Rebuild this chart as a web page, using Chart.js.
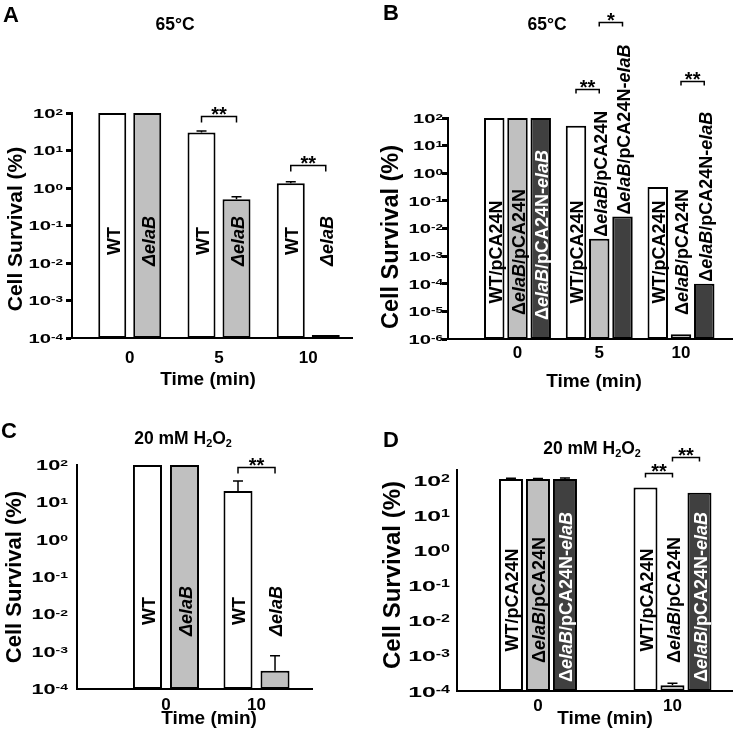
<!DOCTYPE html>
<html><head><meta charset="utf-8">
<script src="https://cdn.jsdelivr.net/npm/chart.js@4.4.1/dist/chart.umd.min.js"></script>
<style>
html,body{margin:0;padding:0;background:#fff;}
#wrap{position:relative;width:733px;height:735px;overflow:hidden;font-family:Arial,"Liberation Sans",sans-serif;font-weight:bold;color:#000;}
canvas{position:absolute;left:0;top:0;}
.t{position:absolute;white-space:nowrap;line-height:1;}
.c{transform:translateX(-50%);}
.t sub{font-size:62%;vertical-align:-0.28em;line-height:0;}
</style></head><body>
<div id="wrap">
<canvas id="cA" width="733" height="735"></canvas>
<canvas id="cB" width="733" height="735"></canvas>
<canvas id="cC" width="733" height="735"></canvas>
<canvas id="cD" width="733" height="735"></canvas>
<div class="t" style="left:3px;top:4px;font-size:22px">A</div>
<div class="t" style="left:383px;top:2px;font-size:22px">B</div>
<div class="t" style="left:1px;top:420px;font-size:22px">C</div>
<div class="t" style="left:383px;top:429px;font-size:22px">D</div>
<div class="t c" style="left:175px;top:16px;font-size:17.5px">65°C</div>
<div class="t c" style="left:547px;top:16px;font-size:17.5px">65°C</div>
<div class="t c" style="left:183px;top:430px;font-size:17.5px">20 mM H<sub>2</sub>O<sub>2</sub></div>
<div class="t c" style="left:592px;top:440px;font-size:17.5px">20 mM H<sub>2</sub>O<sub>2</sub></div>
</div>
<script>
const FONT = 'Arial, "Liberation Sans", sans-serif';

// ---------- Panel A : 65°C ----------
const timesA = ['0', '5', '10'];
const wtA = [100, 30, 1.34];
const wtErrA = [0, 3, 0.12];
const delA = [100, 0.5, 1.2e-4];
const delErrA = [0, 0.08, 0];
const expA = [2, 1, 0, -1, -2, -3, -4];

// ---------- Panel B : 65°C ----------
const timesB = ['0', '5', '10'];
const wtB = [100, 52, 0.32];
const delB = [100, 0.0043, 1.5e-6];
const compB = [100, 0.027, 1.0e-4];
const expB = [2, 1, 0, -1, -2, -3, -4, -5, -6];

// ---------- Panel C : 20 mM H2O2 ----------
const timesC = ['0', '10'];
const wtC = [100, 20];
const wtErrC = [0, 17];
const delC = [100, 3.1e-4];
const delErrC = [0, 4.7e-4];
const expC = [2, 1, 0, -1, -2, -3, -4];

// ---------- Panel D : 20 mM H2O2 ----------
const timesD = ['0', '10'];
const wtD = [107, 61];
const wtErrD = [5, 0];
const delD = [107, 1.45e-4];
const delErrD = [3, 0.2e-4];
const compD = [107, 43];
const compErrD = [6, 0];
const expD = [2, 1, 0, -1, -2, -3, -4];

// axis titles
const Y_TITLE = 'Cell Survival (%)';
const X_TITLE = 'Time (min)';

// bar labels: [text, italic]
const LBL_WT = [['WT', false]];
const LBL_DEL = [['ΔelaB', true]];
const LBL_WTP = [['WT/pCA24N', false]];
const LBL_DELP = [['Δ', false], ['elaB', true], ['/pCA24N', false]];
const LBL_COMP = [['Δ', false], ['elaB', true], ['/pCA24N-', false], ['elaB', true]];

// significance: group, bar a, bar b, bracket level (data units), mark
const sigA = [{g: 1, a: 0, b: 1, at: 83, mark: '**'}, {g: 2, a: 0, b: 1, at: 4.1, mark: '**'}];
const sigB = [{g: 1, a: 0, b: 1, at: 1120, mark: '**'}, {g: 1, a: 1, b: 2, at: 3e5, mark: '*'}, {g: 2, a: 1, b: 2, at: 2200, mark: '**'}];
const sigC = [{g: 1, a: 0, b: 1, at: 88, mark: '**'}];
const sigD = [{g: 1, a: 0, b: 1, at: 158, mark: '**'}, {g: 1, a: 1, b: 2, at: 450, mark: '**'}];

const WHITE = '#ffffff', GREY = '#c0c0c0', DARK = '#404040';

function segsWidth(ctx, segs, fs) {
  let w = 0;
  for (const [t, it] of segs) {
    ctx.font = (it ? 'italic ' : '') + 'bold ' + fs + 'px ' + FONT;
    w += ctx.measureText(t).width;
  }
  return w;
}
function drawSegs(ctx, segs, fs, x, yBottom, color) {
  ctx.save();
  ctx.translate(x, yBottom);
  ctx.rotate(-Math.PI / 2);
  ctx.fillStyle = color;
  ctx.textBaseline = 'alphabetic';
  ctx.textAlign = 'left';
  let cx = 0;
  const capH = 0.716 * fs;
  for (const [t, it] of segs) {
    ctx.font = (it ? 'italic ' : '') + 'bold ' + fs + 'px ' + FONT;
    ctx.fillText(t, cx, capH / 2);
    cx += ctx.measureText(t).width;
  }
  ctx.restore();
}

function decorate(chart, p) {
  const ctx = chart.ctx, ca = chart.chartArea, ys = chart.scales.y;
  ctx.save();
  // error bars
  p.series.forEach((s, di) => {
    if (!s.errors) return;
    const meta = chart.getDatasetMeta(di);
    meta.data.forEach((bar, gi) => {
      const e = s.errors[gi];
      if (!e) return;
      const yTop = ys.getPixelForValue(s.values[gi] + e);
      ctx.beginPath();
      ctx.moveTo(bar.x, bar.y);
      ctx.lineTo(bar.x, yTop);
      ctx.moveTo(bar.x - 5, yTop);
      ctx.lineTo(bar.x + 5, yTop);
      ctx.lineWidth = 1.5;
      ctx.strokeStyle = '#000';
      ctx.stroke();
    });
  });
  // bar labels
  const center = ca.top + p.labelFrac * (ca.bottom - ca.top);
  const maxBottom = ca.bottom - p.labelGap;
  p.series.forEach((s, di) => {
    const meta = chart.getDatasetMeta(di);
    meta.data.forEach((bar, gi) => {
      const len = segsWidth(ctx, s.label, p.labelFs);
      let bottom = Math.min(center + len / 2, maxBottom);
      let top = bottom - len;
      const inside = bar.y <= top;
      if (!inside && bar.y < bottom) { bottom = bar.y - 2; top = bottom - len; }
      const color = inside && s.dark ? '#fff' : '#000';
      drawSegs(ctx, s.label, p.labelFs, bar.x + 1, bottom, color);
    });
  });
  // significance brackets
  p.sig.forEach(sg => {
    const xa = chart.getDatasetMeta(sg.a).data[sg.g].x;
    const xb = chart.getDatasetMeta(sg.b).data[sg.g].x;
    const y = Math.round(ys.getPixelForValue(sg.at)) + 0.5;
    ctx.beginPath();
    ctx.moveTo(xa, y + p.drop);
    ctx.lineTo(xa, y);
    ctx.lineTo(xb, y);
    ctx.lineTo(xb, y + p.drop);
    ctx.lineWidth = 1.5;
    ctx.strokeStyle = '#000';
    ctx.stroke();
    ctx.font = 'bold 20px ' + FONT;
    ctx.fillStyle = '#000';
    ctx.textAlign = 'center';
    ctx.textBaseline = 'alphabetic';
    ctx.fillText(sg.mark, (xa + xb) / 2, y + 4);
  });
  // y tick labels 10^n
  ys.ticks.forEach(t => {
    const e = Math.round(Math.log10(t.value));
    const py = ys.getPixelForValue(t.value);
    const sx = p.tickSx;
    ctx.font = 'bold ' + p.tickFs + 'px ' + FONT;
    const wb = ctx.measureText('10').width;
    ctx.font = 'bold ' + p.expFs + 'px ' + FONT;
    const we = ctx.measureText(String(e)).width;
    const right = ca.left - p.tickGap;
    const x0 = right - (wb + we) * sx;
    ctx.save();
    ctx.translate(x0, py);
    ctx.scale(sx, 1);
    ctx.fillStyle = '#000';
    ctx.textAlign = 'left';
    ctx.textBaseline = 'alphabetic';
    const capB = 0.716 * p.tickFs;
    ctx.font = 'bold ' + p.tickFs + 'px ' + FONT;
    ctx.fillText('10', 0, capB / 2);
    ctx.font = 'bold ' + p.expFs + 'px ' + FONT;
    ctx.fillText(String(e), wb, -capB / 2 + 0.716 * p.expFs);
    ctx.restore();
  });
  // axis titles
  ctx.fillStyle = '#000';
  ctx.textAlign = 'center';
  ctx.textBaseline = 'middle';
  ctx.font = 'bold 19px ' + FONT;
  ctx.fillText(X_TITLE, p.xTitle[0], p.xTitle[1]);
  ctx.save();
  ctx.translate(p.yTitle[0], p.yTitle[1]);
  ctx.rotate(-Math.PI / 2);
  ctx.font = 'bold ' + p.yTitleFs + 'px ' + FONT;
  ctx.fillText(Y_TITLE, 0, 0);
  ctx.restore();
  ctx.restore();
}

function buildPanel(id, p) {
  const datasets = p.series.map(s => ({
    data: p.times.map((t, i) => ({x: i, y: s.values[i]})),
    backgroundColor: s.fill,
    borderColor: '#000',
    borderWidth: 2,
    borderSkipped: false,
    categoryPercentage: p.cp,
    barPercentage: p.bp
  }));
  return new Chart(document.getElementById(id), {
    type: 'bar',
    data: {datasets},
    options: {
      responsive: false,
      animation: false,
      events: [],
      layout: {padding: p.pad},
      plugins: {legend: {display: false}, tooltip: {enabled: false}},
      scales: {
        x: {
          type: 'linear', min: p.xMin, max: p.xMax, offset: false,
          afterBuildTicks: s => { s.ticks = p.times.map((t, i) => ({value: i})); },
          afterFit: s => { s.height = p.xH; },
          grid: {display: false, drawTicks: false},
          border: {display: true, color: '#000', width: 2},
          ticks: {color: '#000', font: {family: FONT, size: 17, weight: 'bold'}, padding: p.xTickPad,
                  autoSkip: false, maxRotation: 0, callback: v => p.times[Math.round(v)] ?? ''},
          title: {display: false}
        },
        y: {
          type: 'logarithmic', min: p.yMin, max: p.yMax,
          afterBuildTicks: s => { s.ticks = p.exps.map(e => ({value: Math.pow(10, e)})); },
          afterFit: s => { s.width = p.yW; },
          grid: {display: p.tickMarks, drawOnChartArea: false, drawTicks: true, tickLength: 6,
                 tickWidth: 3, tickColor: '#000', color: '#000'},
          border: {display: true, color: '#000', width: 2},
          ticks: {display: false},
          title: {display: false}
        }
      }
    },
    plugins: [{id: 'decor' + id, afterDraw: chart => decorate(chart, p)}]
  });
}

buildPanel('cA', {
  times: timesA, exps: expA, yMin: 1e-4, yMax: 100,
  series: [
    {values: wtA, errors: wtErrA, fill: WHITE, label: LBL_WT},
    {values: delA, errors: delErrA, fill: GREY, label: LBL_DEL}
  ],
  sig: sigA, drop: 6,
  xMin: -0.647, xMax: 2.49, cp: 0.784, bp: 0.8,
  pad: {left: 0, right: 381, top: 113, bottom: 337}, yW: 72, xH: 60,
  xTickPad: 10.5, xTitle: [208, 380], yTitle: [16, 229], yTitleFs: 21,
  tickMarks: true, tickFs: 13.5, expFs: 9, tickSx: 1.5, tickGap: 9,
  labelFs: 18, labelFrac: 0.569, labelGap: 10
});

buildPanel('cB', {
  times: timesB, exps: expB, yMin: 1e-6, yMax: 100,
  series: [
    {values: wtB, fill: WHITE, label: LBL_WTP},
    {values: delB, fill: GREY, label: LBL_DELP},
    {values: compB, fill: DARK, label: LBL_COMP, dark: true}
  ],
  sig: sigB, drop: 4,
  xMin: -0.85, xMax: 2.636, cp: 0.853, bp: 0.88,
  pad: {left: 370, right: 0, top: 118, bottom: 336}, yW: 78, xH: 60,
  xTickPad: 4, xTitle: [594, 382], yTitle: [392, 237], yTitleFs: 23.5,
  tickMarks: true, tickFs: 13.5, expFs: 9, tickSx: 1.5, tickGap: 5,
  labelFs: 18, labelFrac: 0.606, labelGap: 19
});

buildPanel('cC', {
  times: timesC, exps: expC, yMin: 1e-4, yMax: 100,
  series: [
    {values: wtC, errors: wtErrC, fill: WHITE, label: LBL_WT},
    {values: delC, errors: delErrC, fill: GREY, label: LBL_DEL}
  ],
  sig: sigC, drop: 6,
  xMin: -0.983, xMax: 1.613, cp: 0.818, bp: 0.784,
  pad: {left: 0, right: 421, top: 465, bottom: 0}, yW: 77, xH: 46,
  xTickPad: 5.8, xTitle: [209, 719], yTitle: [15, 577], yTitleFs: 22,
  tickMarks: false, tickFs: 14, expFs: 9, tickSx: 1.55, tickGap: 9,
  labelFs: 18, labelFrac: 0.652, labelGap: 10
});

buildPanel('cD', {
  times: timesD, exps: expD, yMin: 1e-4, yMax: 192,
  series: [
    {values: wtD, errors: wtErrD, fill: WHITE, label: LBL_WTP},
    {values: delD, errors: delErrD, fill: GREY, label: LBL_DELP},
    {values: compD, errors: compErrD, fill: DARK, label: LBL_COMP, dark: true}
  ],
  sig: sigD, drop: 4,
  xMin: -0.602, xMax: 1.45, cp: 0.602, bp: 0.889,
  pad: {left: 370, right: 0, top: 470, bottom: 0}, yW: 87, xH: 44,
  xTickPad: 4.8, xTitle: [605, 719], yTitle: [393, 575], yTitleFs: 24,
  tickMarks: false, tickFs: 15.5, expFs: 10, tickSx: 1.6, tickGap: 7,
  labelFs: 18, labelFrac: 0.588, labelGap: 9
});
</script>
</body></html>
